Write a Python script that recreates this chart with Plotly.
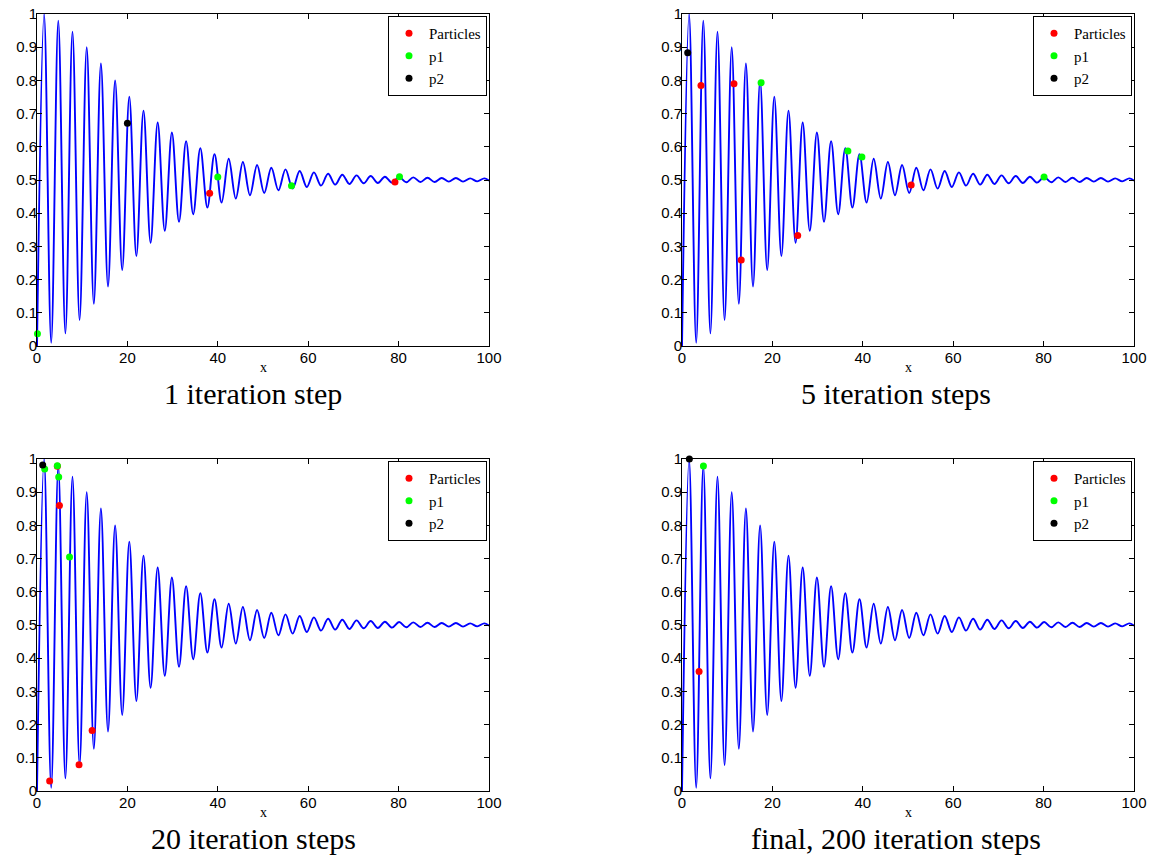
import plotly.graph_objects as go

# ---- objective curve: extrema (x, y) ----
curve_x = [0, 1.57, 3.14, 4.71, 6.28, 7.85, 9.42, 11.0, 12.57, 14.14, 15.71, 17.28, 18.85,
           20.42, 21.99, 23.56, 25.13, 26.7, 28.27, 29.85, 31.42, 32.99, 34.56, 36.13, 37.7,
           39.27, 40.84, 42.41, 43.98, 45.55, 47.12, 48.69, 50.27, 51.84, 53.41, 54.98, 56.55,
           58.12, 59.69, 61.26, 62.83, 64.4, 65.97, 67.54, 69.12, 70.69, 72.26, 73.83, 75.4,
           76.97, 78.54, 80.11, 81.68, 83.25, 84.82, 86.39, 87.96, 89.54, 91.11, 92.68, 94.25,
           95.82, 97.39, 98.96, 100]
curve_y = [0.0, 1.0, 0.010, 0.980, 0.038, 0.947, 0.078, 0.900, 0.127, 0.851, 0.179, 0.800,
           0.229, 0.751, 0.271, 0.709, 0.311, 0.673, 0.347, 0.643, 0.374, 0.617, 0.397, 0.596,
           0.417, 0.578, 0.432, 0.564, 0.444, 0.554, 0.454, 0.545, 0.461, 0.537, 0.469, 0.532,
           0.474, 0.527, 0.479, 0.523, 0.483, 0.519, 0.486, 0.516, 0.488, 0.514, 0.490, 0.512,
           0.491, 0.510, 0.492, 0.509, 0.493, 0.508, 0.494, 0.507, 0.494, 0.506, 0.495, 0.506,
           0.495, 0.505, 0.496, 0.505, 0.498]

# ---- swarm snapshots ----
titles = ["1 iteration step", "5 iteration steps", "20 iteration steps",
          "final, 200 iteration steps"]

particles_x = [[38.2, 79.2],
               [4.2, 11.5, 13.1, 25.6, 50.7],
               [4.5, 4.96, 2.8, 9.3, 12.2],
               [3.78]]
particles_y = [[0.460, 0.494],
               [0.785, 0.790, 0.259, 0.333, 0.485],
               [0.978, 0.860, 0.030, 0.079, 0.182],
               [0.360]]

p1_x = [[0.1, 40.0, 56.3, 80.2],
        [17.5, 36.7, 39.8, 80.1],
        [1.7, 4.5, 4.8, 7.2],
        [4.74]]
p1_y = [[0.037, 0.509, 0.483, 0.510],
        [0.793, 0.587, 0.569, 0.509],
        [0.970, 0.980, 0.946, 0.705],
        [0.979]]

p2_x = [[20.0], [1.26], [1.26], [1.63]]
p2_y = [[0.671], [0.883], [0.982], [1.0]]

x_ticks = [0, 20, 40, 60, 80, 100]
y_ticks = [0, 0.1, 0.2, 0.3, 0.4, 0.5, 0.6, 0.7, 0.8, 0.9, 1]

# ---- layout geometry (pixels of a 1157x855 page) ----
W, H = 1157, 855
col_px = [(37, 489), (682, 1134)]
row_px = [(14, 346), (459, 791)]
title_cx = [253, 896.5]
title_cy = [394, 838]
xlabel_dy = 21

SERIF = "Liberation Serif"
SANS = "Liberation Sans"

fig = go.Figure()
layout = dict(width=W, height=H, margin=dict(l=0, r=0, t=0, b=0),
              paper_bgcolor="white", plot_bgcolor="white", template="none",
              showlegend=True, annotations=[])

for i in range(4):
    r, c = divmod(i, 2)
    sfx = "" if i == 0 else str(i + 1)
    xa, ya = "x" + sfx, "y" + sfx
    leg = "legend" + sfx
    x0, x1 = col_px[c]
    y0, y1 = row_px[r]

    fig.add_trace(go.Scatter(x=curve_x, y=curve_y, mode="lines",
                             line=dict(color="#0000ff", width=1.9, shape="spline", smoothing=1),
                             xaxis=xa, yaxis=ya, showlegend=False, hoverinfo="skip"))
    fig.add_trace(go.Scatter(x=particles_x[i], y=particles_y[i], mode="markers", name="Particles",
                             marker=dict(color="#ff0000", size=7), cliponaxis=False,
                             xaxis=xa, yaxis=ya, legend=leg))
    fig.add_trace(go.Scatter(x=p1_x[i], y=p1_y[i], mode="markers", name="p1",
                             marker=dict(color="#00ff00", size=7), cliponaxis=False,
                             xaxis=xa, yaxis=ya, legend=leg))
    fig.add_trace(go.Scatter(x=p2_x[i], y=p2_y[i], mode="markers", name="p2",
                             marker=dict(color="#000000", size=7), cliponaxis=False,
                             xaxis=xa, yaxis=ya, legend=leg))

    axis_common = dict(showline=True, linecolor="black", linewidth=1, mirror="allticks",
                       ticks="inside", ticklen=5, tickwidth=1, tickcolor="black",
                       showgrid=False, zeroline=False,
                       tickfont=dict(family=SANS, size=15, color="black"))
    layout["xaxis" + sfx] = dict(axis_common, domain=[x0 / W, x1 / W], range=[0, 100],
                                 tickvals=x_ticks, anchor=ya, ticklabelstandoff=-2)
    layout["yaxis" + sfx] = dict(axis_common, domain=[1 - y1 / H, 1 - y0 / H], range=[0, 1],
                                 tickvals=y_ticks, ticktext=[f"{v:g}" for v in y_ticks],
                                 anchor=xa, ticklabelstandoff=-4)
    layout[leg] = dict(x=(x1 - 2) / W, y=1 - (y0 + 2) / H, xanchor="right", yanchor="top",
                       xref="paper", yref="paper",
                       bgcolor="white", bordercolor="black", borderwidth=1,
                       font=dict(family=SERIF, size=15, color="black"),
                       tracegroupgap=0, itemwidth=30)
    cx = (x0 + x1) / 2
    layout["annotations"].append(dict(x=cx / W, y=1 - (y1 + xlabel_dy) / H, xref="paper",
                                      yref="paper", text="x", showarrow=False,
                                      xanchor="center", yanchor="middle",
                                      font=dict(family=SERIF, size=14, color="black")))
    layout["annotations"].append(dict(x=title_cx[c] / W, y=1 - title_cy[r] / H, xref="paper",
                                      yref="paper", text=titles[i], showarrow=False,
                                      xanchor="center", yanchor="middle",
                                      font=dict(family=SERIF, size=30, color="black")))

fig.update_layout(**layout)
fig.write_html("out.html")
